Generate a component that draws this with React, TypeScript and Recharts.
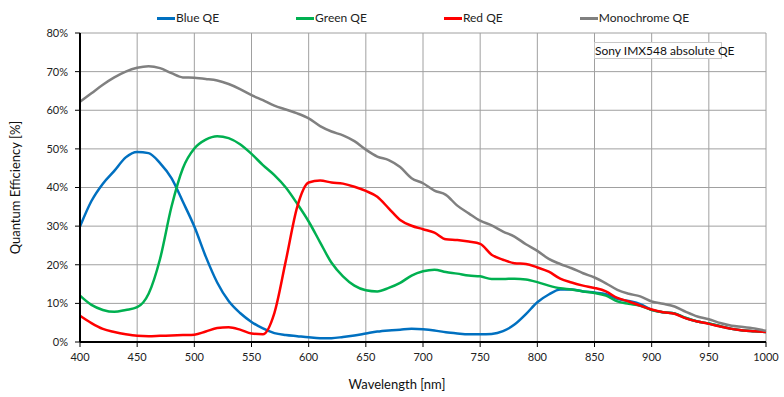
import React from 'react';
import { LineChart, Line, XAxis, YAxis, CartesianGrid, Label } from 'recharts';

// ── Data (QE in %, sampled every 10 nm) ──────────────────────────────────────

const wavelengths = [
  400, 410, 420, 430, 440, 450, 460, 470, 480, 490,
  500, 510, 520, 530, 540, 550, 560, 570, 580, 590,
  600, 610, 620, 630, 640, 650, 660, 670, 680, 690,
  700, 710, 720, 730, 740, 750, 760, 770, 780, 790,
  800, 810, 820, 830, 840, 850, 860, 870, 880, 890,
  900, 910, 920, 930, 940, 950, 960, 970, 980, 990,
  1000,
];

const blueQE = [
  29.9, 36.5, 41.0, 44.3, 47.8, 49.2, 48.9, 46.3, 42.4, 36.3,
  29.9, 22.1, 15.4, 10.6, 7.5, 5.2, 3.5, 2.3, 1.8, 1.5,
  1.2, 1.0, 1.0, 1.3, 1.7, 2.2, 2.7, 3.0, 3.2, 3.4,
  3.3, 3.0, 2.5, 2.2, 2.0, 2.0, 2.1, 2.8, 4.5, 7.2,
  10.3, 12.3, 13.6, 13.6, 13.1, 12.8, 12.4, 11.2, 10.6, 9.8,
  8.3, 7.7, 7.4, 6.2, 5.3, 4.8, 4.1, 3.4, 3.0, 2.8,
  2.6,
];

const greenQE = [
  12.0, 9.6, 8.3, 7.8, 8.3, 9.0, 12.5, 21.5, 35.0, 45.0,
  50.1, 52.4, 53.3, 52.8, 51.2, 48.7, 45.8, 43.2, 40.0, 35.8,
  31.2, 25.8, 20.5, 17.0, 14.6, 13.4, 13.1, 14.0, 15.3, 17.2,
  18.3, 18.7, 18.1, 17.7, 17.2, 17.0, 16.3, 16.3, 16.4, 16.2,
  15.5, 14.6, 13.9, 13.6, 13.1, 12.7, 12.0, 10.5, 9.9, 9.4,
  8.3, 7.7, 7.4, 6.2, 5.3, 4.8, 4.1, 3.4, 3.0, 2.8,
  2.6,
];

const redQE = [
  6.8, 4.9, 3.4, 2.6, 2.0, 1.6, 1.5, 1.6, 1.7, 1.8,
  1.9, 2.7, 3.6, 3.8, 3.2, 2.2, 2.0, 7.5, 21.0, 35.0,
  41.3, 41.8, 41.3, 41.0, 40.2, 39.1, 37.6, 34.6, 31.6, 30.1,
  29.2, 28.3, 26.6, 26.4, 26.0, 25.4, 22.6, 21.3, 20.4, 20.2,
  19.3, 18.2, 16.4, 15.4, 14.6, 14.0, 13.1, 11.4, 10.5, 9.4,
  8.4, 7.7, 7.3, 6.1, 5.3, 4.7, 4.0, 3.4, 3.0, 2.8,
  2.6,
];

const monoQE = [
  62.2, 64.4, 66.6, 68.5, 70.0, 71.0, 71.4, 70.9, 69.6, 68.5,
  68.4, 68.1, 67.7, 66.8, 65.5, 63.9, 62.6, 61.2, 60.2, 59.2,
  57.9, 55.9, 54.5, 53.5, 52.0, 49.8, 48.0, 47.1, 45.3, 42.4,
  41.1, 39.2, 38.1, 35.3, 33.3, 31.4, 30.2, 28.6, 27.3, 25.3,
  23.6, 21.5, 20.2, 19.1, 17.8, 16.7, 15.2, 13.5, 12.5, 11.8,
  10.5, 9.9, 9.2, 7.8, 6.6, 5.9, 4.9, 4.2, 3.9, 3.5,
  2.9,
];

const xTicks = [400, 450, 500, 550, 600, 650, 700, 750, 800, 850, 900, 950, 1000];
const yTicks = [0, 10, 20, 30, 40, 50, 60, 70, 80];

const series = [
  { key: 'blue', name: 'Blue QE', color: '#0070c0' },
  { key: 'green', name: 'Green QE', color: '#00b050' },
  { key: 'red', name: 'Red QE', color: '#ff0000' },
  { key: 'mono', name: 'Monochrome QE', color: '#808080' },
];

const data = wavelengths.map((wl, i) => ({
  wl,
  blue: blueQE[i],
  green: greenQE[i],
  red: redQE[i],
  mono: monoQE[i],
}));

const FONT = 'Lato, "Open Sans", sans-serif';
const tickStyle = { fill: '#222', fontSize: 11, fontFamily: FONT };

// ── Legend across the top ────────────────────────────────────────────────────

const TopLegend = () => (
  <div style={{
    position: 'absolute', top: 10, left: 157, display: 'flex', gap: 77,
    fontFamily: FONT, fontSize: 12, color: '#222', lineHeight: '16px',
  }}>
    {series.map(s => (
      <div key={s.key} style={{ display: 'flex', alignItems: 'center' }}>
        <span style={{ display: 'inline-block', width: 18, height: 3, background: s.color, marginRight: 1 }} />
        <span>{s.name}</span>
      </div>
    ))}
  </div>
);

export default function App() {
  return (
    <div style={{ position: 'absolute', left: 0, top: 0, width: 784, height: 397, background: '#fff' }}>
      <LineChart
        width={784}
        height={397}
        data={data}
        margin={{ top: 33, right: 18, bottom: 0, left: 20 }}
      >
        <CartesianGrid stroke="#a0a0a0" strokeWidth={1} />
        <XAxis
          dataKey="wl"
          type="number"
          domain={[400, 1000]}
          ticks={xTicks}
          height={55}
          tick={tickStyle}
          tickSize={5}
          tickMargin={6}
          axisLine={{ stroke: '#000', strokeWidth: 2 }}
          tickLine={{ stroke: '#000' }}
        >
          <Label
            value="Wavelength [nm]"
            position="insideBottom"
            offset={8}
            dx={-26}
            style={{ fill: '#111', fontSize: 13, fontFamily: FONT }}
          />
        </XAxis>
        <YAxis
          type="number"
          domain={[0, 80]}
          ticks={yTicks}
          width={60}
          tick={tickStyle}
          tickSize={5}
          tickMargin={7}
          tickFormatter={v => `${v}%`}
          axisLine={{ stroke: '#000', strokeWidth: 2 }}
          tickLine={{ stroke: '#000' }}
        >
          <Label
            value="Quantum Efficiency [%]"
            angle={-90}
            position="insideLeft"
            offset={-5}
            style={{ fill: '#111', fontSize: 13, fontFamily: FONT, textAnchor: 'middle' }}
          />
        </YAxis>
        {series.map(s => (
          <Line
            key={s.key}
            type="monotone"
            dataKey={s.key}
            name={s.name}
            stroke={s.color}
            strokeWidth={2.5}
            dot={false}
            isAnimationActive={false}
          />
        ))}
      </LineChart>
      <TopLegend />
      <div style={{
        position: 'absolute', left: 594, top: 42, width: 126, height: 15,
        border: '1px solid #c8c8c8', background: '#fff', fontFamily: FONT,
        fontSize: 12, color: '#111', lineHeight: '15px', textAlign: 'center',
        whiteSpace: 'nowrap',
      }}>
        Sony IMX548 absolute QE
      </div>
    </div>
  );
}
